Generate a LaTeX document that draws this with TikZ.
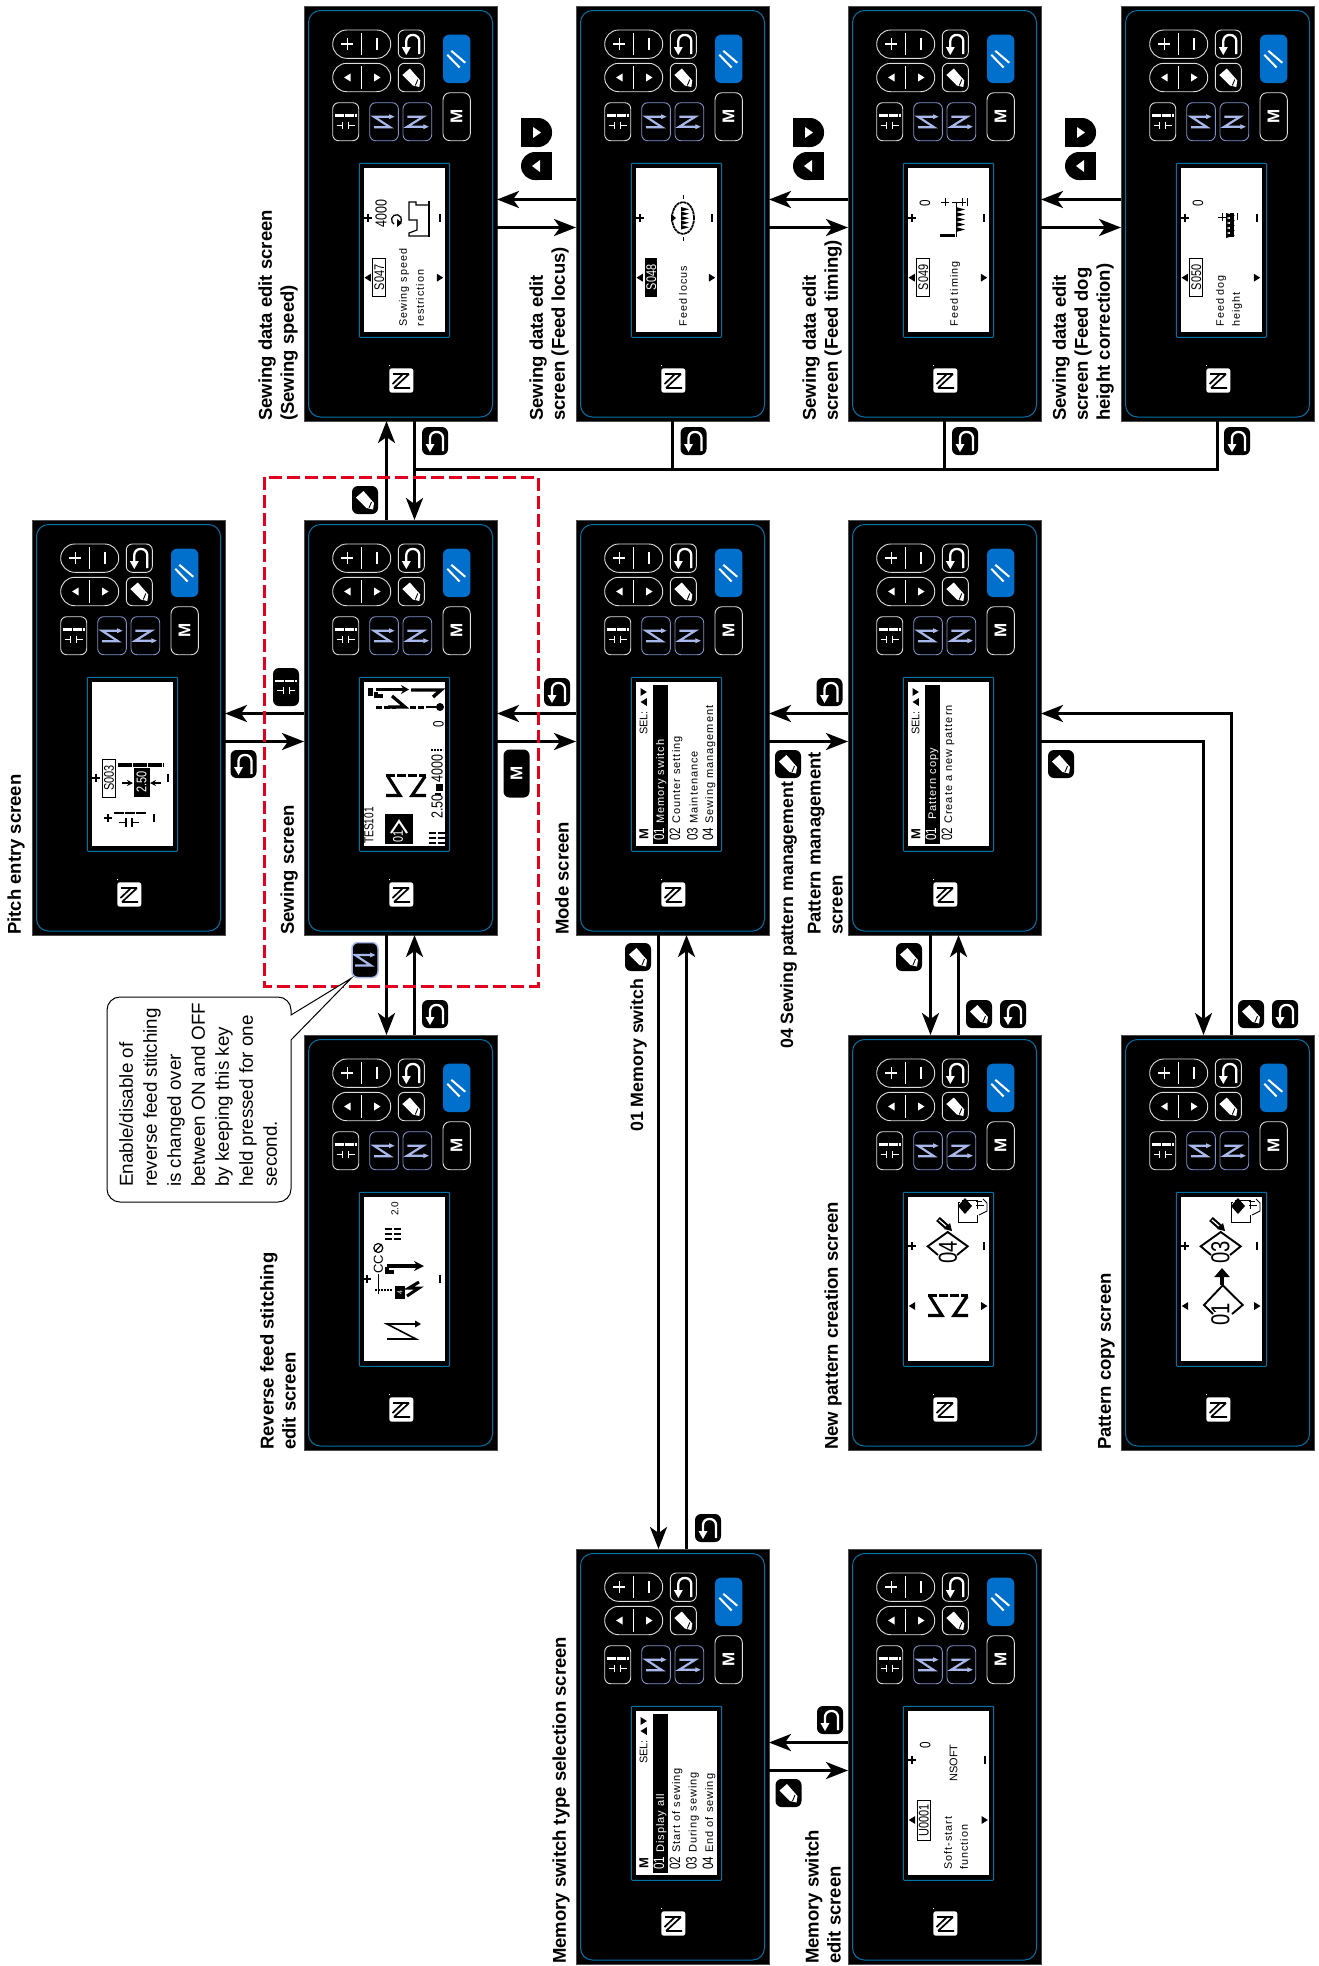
\documentclass[tikz,border=0pt]{standalone}
\usepackage{fontspec}
\setmainfont{Liberation Sans}
\newfontfamily\lcdfont[LetterSpace=9]{Liberation Sans}
\newfontfamily\lcdnumfont[FakeStretch=0.78]{Liberation Sans}
\usetikzlibrary{arrows.meta}
\definecolor{PanelBlue}{HTML}{0072A8}
\definecolor{KeyBlue}{HTML}{0070CC}
\definecolor{RevEdge}{HTML}{7F8FC8}
\definecolor{RevInk}{HTML}{A8B8EA}
\definecolor{KeyGrey}{HTML}{DDDDDD}
\definecolor{NoteRed}{HTML}{E60020}
\newcommand{\menurow}[2]{\lcdnumfont\fontsize{15}{15}\selectfont #1\lcdfont\fontsize{11}{11}\selectfont\ #2}
\tikzset{
  panelbox/.style={draw=black!70,fill=black,line width=0.8pt,anchor=north west,minimum width=193pt,minimum height=415pt,inner sep=0pt,outer sep=0pt},
  keyline/.style={draw=KeyGrey,line width=0.9pt},
  flowline/.style={line width=3pt,draw=black},
  flowarrow/.style={-{Stealth[length=22pt,width=17pt,inset=6pt]},line width=3pt,draw=black},
  screenlabel/.style={rotate=90,anchor=south west,align=left,inner sep=0pt,font=\bfseries\fontsize{18.5}{22}\selectfont},
  keylabel/.style={screenlabel,font=\bfseries\fontsize{17.8}{22}\selectfont},
  lcdtext/.style={rotate=90,anchor=west,inner sep=0pt,font=\lcdfont\fontsize{10.8}{10.8}\selectfont},
  lcdnum/.style={rotate=90,anchor=west,inner sep=0pt,font=\lcdnumfont\fontsize{15}{15}\selectfont},
  idbox/.style={draw=black,line width=0.9pt,rotate=90,minimum width=38pt,minimum height=13pt,inner sep=0pt,font=\lcdnumfont\fontsize{14}{14}\selectfont},
  idboxon/.style={idbox,fill=black,text=white},
  tokenkey/.style={fill=black,rounded corners=6pt,minimum width=26pt,minimum height=28pt,inner sep=0pt},
  notebox/.style={draw=black,fill=white,line width=1pt},
  plusmark/.pic={\draw[line width=1.8pt] (-4,0)--(4,0) (0,-4)--(0,4);},
  minusmark/.pic={\draw[line width=2pt] (0,-4)--(0,4);},
  triup/.pic={\fill (-4,0)--(4,-5)--(4,5)--cycle;},
  tridown/.pic={\fill (4,0)--(-4,-5)--(-4,5)--cycle;},
  backicon/.pic={\draw[white,line width=2.3pt,rounded corners=6pt] (8,10)--(8,-9)--(-5,-9)--(-5,4);
    \fill[white] (-9.5,3)--(-0.5,3)--(-5,11)--cycle;},
  penicon/.pic={\fill[white] (-9,-2.5)--(-1.5,-9)--(9,3)--(8,9.5)--(1.5,8)--cycle;
    \draw[black,line width=0.9pt] (6.5,2)--(4,8);},
  pitchicon/.pic={\draw[white,line width=2.6pt,dash pattern=on 9pt off 1pt] (-11,-6)--(11,-6);
    \draw[white,line width=0.7pt] (-3,0)--(-3,7) (3,0)--(3,7) (-9,3.5)--(-3,3.5) (9,3.5)--(3,3.5);},
  revicon/.pic={\draw[RevInk,line width=2.2pt] (-10,5.5)--(6,5.5)--(-10,-5)--(6,-5);
    \fill[RevInk] (5,-7.5)--(10.5,-5)--(5,-2.5)--cycle;},
  zzicon/.pic={\draw[RevInk,line width=2.2pt] (-10,-5)--(6,-5)--(-10,5)--(7,5);
    \fill[RevInk] (6,2.5)--(11.5,5)--(6,7.5)--cycle;},
  backtoken/.pic={\fill[rounded corners=6pt] (-13,-14) rectangle (13,14); \pic {backicon};},
  pentoken/.pic={\fill[rounded corners=6pt] (-13,-14) rectangle (13,14); \pic {penicon};},
  stitchmark/.pic={\draw[line width=3.2pt,dash pattern=on 9pt off 2pt] (-20,-10)--(20,-10);
    \draw[line width=3.2pt] (-20,10)--(-6,10)--(-18,-9) (20,10)--(6,10)--(19,-9);},
  spanmark/.pic={\draw[line width=1.2pt] (-3,-4)--(-3,5) (3,-4)--(3,5) (-10,0.5)--(-3,0.5) (10,0.5)--(3,0.5);},
  teethmark/.pic={\foreach \t in {0,5,10,15,20} \fill (0,\t)--(9,\t+2.5)--(0,\t+5)--cycle;},
  pitchmark/.pic={\draw[line width=1.8pt,dash pattern=on 7pt off 2pt] (-8,-5)--(8,-5) (-8,0)--(8,0) (-8,5)--(8,5);},
  copymark/.pic={\draw[line width=1pt] (110.7,167) rectangle (129,187);
    \fill[white] (112,164) rectangle (140,180);
    \draw[line width=1pt] (114,165)--(129,165)--(129,174);
    \fill (117,163)--(124,171)--(117,179)--(110,171)--cycle;
    \draw[line width=0.9pt] (128,166)--(134,166) (128,170)--(136,170);
    \draw[line width=0.9pt] (135,164)--(139,168)--(139,176)--(131,180);
    \draw[line width=5.5pt] (90,184)--(99,192);
    \draw[white,line width=1.2pt] (91,185)--(98,191);
    \fill (96,194)--(104,196)--(102,188)--cycle;},
  keypanel/.pic={
    \draw[PanelBlue,line width=1pt,rounded corners=12pt] (4.5,4.5) rectangle (188.5,411);
    \draw[keyline,rounded corners=14pt] (28.7,24) rectangle (86.7,52.3);
    \draw[keyline,rounded corners=14pt] (28.7,57.3) rectangle (86.7,85.7);
    \draw[white,line width=0.9pt] (57.7,27)--(57.7,49) (57.7,60)--(57.7,83);
    \draw[white,line width=1.6pt] (37.3,38)--(49.3,38) (43.3,32)--(43.3,44) (72.7,32)--(72.7,44);
    \pic[white,scale=0.8] at (43.3,71.5) {triup};
    \pic[white,scale=0.8] at (73.3,71.5) {tridown};
    \draw[keyline,rounded corners=6pt] (94.3,24) rectangle (120.3,52.3);
    \pic at (107.3,38) {backicon};
    \draw[keyline,rounded corners=6pt] (94.3,57.3) rectangle (120.3,85.7);
    \pic at (107.3,71.5) {penicon};
    \fill[KeyBlue,rounded corners=6pt] (139,28.7) rectangle (166.3,77);
    \draw[white,line width=2pt] (143.3,48.8)--(155.6,61.5) (147.3,44.8)--(161.3,56.8);
    \draw[keyline,rounded corners=7pt] (139,86.7) rectangle (166.3,134.7);
    \node[rotate=90,text=white,inner sep=0pt,font=\bfseries\fontsize{17}{17}\selectfont] (-m) at (152.6,110.7) {M};
    \draw[keyline,rounded corners=6pt] (28.7,96.7) rectangle (54.7,134.7);
    \pic at (41.7,115.7) {pitchicon};
    \draw[RevEdge,line width=0.9pt,rounded corners=6pt] (65.7,96.7) rectangle (94.3,134.7);
    \pic at (80,115.7) {revicon};
    \draw[RevEdge,line width=0.9pt,rounded corners=6pt] (99,96.7) rectangle (127.7,134.7);
    \pic at (113.3,115.7) {zzicon};
    \fill[white,rounded corners=2.5pt] (85.3,362.3) rectangle (109.3,386.7);
    \draw[black,line width=1.7pt] (89,368)--(105,368) (105,368)--(90,382) (99,368)--(88.5,378) (90,382)--(106,382);
    \fill[white] (85.3,359) rectangle (86.3,360);
    \draw[PanelBlue,fill=black,line width=1pt,rounded corners=1pt] (55.3,157.3) rectangle (145.7,331.3);
    \fill[white] (60,162.3) rectangle (141,326.3);
  }
}
\begin{document}
\begin{tikzpicture}[x=1pt,y=-1pt]
\useasboundingbox (0,0) rectangle (1319,1966);
% panels
\foreach \nm/\px/\py in {s47/304/6,s48/576/6,s49/848/6,s50/1121/6,
  pitch/32/520,sew/304/520,mode/576/520,patt/848/520,
  rev/304/1035,newp/848/1035,copyp/1121/1035,
  mtype/576/1549,medit/848/1549}{
  \node[panelbox] (\nm) at (\px,\py) {};
  \pic (\nm) at (\nm.north west) {keypanel};
}
% S047
\begin{scope}[shift={(s47.north west)}]
  \pic at (63.7,212.3) {plusmark};
  \pic at (136,212.3) {minusmark};
  \pic[scale=0.8] at (63.7,271.7) {triup};
  \pic[scale=0.8] at (136,271.7) {tridown};
  \node[idbox] (s47id) at (75.3,271.5) {S047};
  \node[lcdnum,font=\lcdnumfont\fontsize{16}{16}\selectfont] (s47val) at (77,222) {4000};
  \node[lcdtext] (s47a) at (100,320.7) {Sewing speed};
  \node[lcdtext] (s47b) at (116,320.7) {restriction};
  \draw[line width=1.3pt] (95,218) arc[start angle=-60,end angle=240,radius=5pt];
  \fill (93,213)--(98,217)--(93,221)--cycle;
  \draw[line width=2pt] (124.5,195)--(124.5,231);
  \draw[line width=1.2pt] (105,199)--(105,196)--(112,196)--(112,199)--(124,199) (105,199)--(105,214)--(113,214)--(113,224)--(105,227)--(105,230)--(124,230);
\end{scope}
% S048
\begin{scope}[shift={(s48.north west)}]
  \pic at (63.7,212.3) {plusmark};
  \pic at (136,212.3) {minusmark};
  \pic[scale=0.8] at (63.7,271.7) {triup};
  \pic[scale=0.8] at (136,271.7) {tridown};
  \node[idboxon,minimum height=11pt] (s48id) at (75.3,271.5) {S048};
  \node[lcdtext] (s48a) at (107,320.7) {Feed locus};
  \draw[line width=1.7pt,dash pattern=on 3pt off 0.6pt] (107,212) ellipse [x radius=11pt,y radius=16pt];
  \draw[line width=1pt] (107,189)--(107,193) (107,231)--(107,235);
  \pic[scale=0.9] at (105,201) {teethmark};
  \fill (95,208)--(100,212)--(95,216)--cycle;
\end{scope}
% S049
\begin{scope}[shift={(s49.north west)}]
  \pic at (63.7,212.3) {plusmark};
  \pic at (136,212.3) {minusmark};
  \pic[scale=0.8] at (63.7,271.7) {triup};
  \pic[scale=0.8] at (136,271.7) {tridown};
  \node[idbox] (s49id) at (75.3,271.5) {S049};
  \node[lcdnum] (s49val) at (77,201) {0};
  \node[lcdtext] (s49a) at (107,320.7) {Feed timing};
  \draw[line width=0.9pt] (108,196)--(108,231) (93,196)--(101,196) (97,192)--(97,200) (104,196)--(118,196) (114,192)--(114,200) (119,192)--(119,200);
  \pic at (108,201) {teethmark};
  \draw[line width=3pt] (92,229)--(107,229);
\end{scope}
% S050
\begin{scope}[shift={(s50.north west)}]
  \pic at (63.7,212.3) {plusmark};
  \pic at (136,212.3) {minusmark};
  \pic[scale=0.8] at (63.7,271.7) {triup};
  \pic[scale=0.8] at (136,271.7) {tridown};
  \node[idbox] (s50id) at (75.3,271.5) {S050};
  \node[lcdnum] (s50val) at (77,201) {0};
  \node[lcdtext] (s50a) at (100,320.7) {Feed dog};
  \node[lcdtext] (s50b) at (116,320.7) {height};
  \draw[line width=0.9pt] (97,211)--(105,211) (101,207)--(101,215) (116,207)--(116,214);
  \fill (109,207) rectangle (113,231);
  \pic at (105,207) {teethmark};
\end{scope}
% pitch entry
\begin{scope}[shift={(pitch.north west)}]
  \pic at (63.6,257.7) {plusmark};
  \pic at (136,257.7) {minusmark};
  \pic at (76,298) {plusmark};
  \pic at (122,298) {minusmark};
  \node[idbox] (p03id) at (77,258) {S003};
  \draw[line width=4.5pt,dash pattern=on 14pt off 1pt] (86,245)--(132,245);
  \node[idboxon,minimum width=28pt,minimum height=15pt] (p03val) at (109.5,262) {2.50};
  \draw[-{Stealth[length=6pt,width=6pt]},line width=1.2pt] (90,263)--(101,263);
  \draw[-{Stealth[length=6pt,width=6pt]},line width=1.2pt] (129,263)--(118,263);
  \draw[line width=2.4pt,dash pattern=on 10pt off 1pt] (82,293)--(115,293);
  \pic at (97,302) {spanmark};
\end{scope}
% sewing
\begin{scope}[shift={(sew.north west)}]
  \node[lcdnum,font=\lcdnumfont\fontsize{13}{13}\selectfont] (sewname) at (65,324) {TES101};
  \fill (81,294) rectangle (108.6,324);
  \draw[white,line width=2pt] (87,313)--(95,301)--(103,313);
  \node[lcdnum,text=white,font=\lcdnumfont\fontsize{14}{14}\selectfont] (sewpat) at (94,323) {01};
  \pic at (102,265.5) {stitchmark};
  \node[lcdnum,font=\lcdnumfont\fontsize{16}{16}\selectfont] (sewpitch) at (133,299) {2.50};
  \node[lcdnum,font=\lcdnumfont\fontsize{16}{16}\selectfont] (sewspeed) at (133,263) {4000};
  \node[lcdnum] (sewcount) at (134.5,208) {0};
  \draw[line width=1.4pt,dash pattern=on 2pt off 1pt] (127,230)--(139,230);
  \fill (132,264) rectangle (139,271);
  \draw[line width=1.4pt] (131,274)--(137,274);
  \pic at (132.5,317.7) {pitchmark};
  \fill (64,168) rectangle (69,176);
  \draw[-{Stealth[length=8pt,width=9pt]},line width=3.4pt] (72,169.5)--(105,169.5);
  \draw[line width=3.2pt] (72,172)--(72,176)--(79,176);
  \draw[line width=3.4pt] (107,170)--(137,170)--(129,177);
  \draw[line width=3pt,dash pattern=on 6pt off 2pt] (72,187)--(92,187);
  \draw[line width=3.2pt] (88,176)--(101,187)--(84,187);
  \draw[line width=3pt,dash pattern=on 6pt off 2pt] (106,187)--(122,187);
  \draw[line width=2.4pt] (122,187)--(136,187);
  \fill (136,187) circle [radius=4pt];
\end{scope}
% mode
\begin{scope}[shift={(mode.north west)}]
  \node[rotate=90,inner sep=0pt,font=\bfseries\fontsize{13}{13}\selectfont] (modem) at (68,314) {M};
  \node[lcdtext,anchor=west,font=\fontsize{11}{11}\selectfont] (modesel) at (67.7,215) {SEL:};
  \pic[scale=0.8] at (67.7,182) {triup};
  \pic[scale=0.8] at (67.7,172) {tridown};
  \fill (76.7,165) rectangle (91.7,324);
  \node[lcdtext,text=white] (mode1) at (84,321) {\menurow{01}{Memory switch}};
  \node[lcdtext] (mode2) at (100,321) {\menurow{02}{Counter setting}};
  \node[lcdtext] (mode3) at (116.5,321) {\menurow{03}{Maintenance}};
  \node[lcdtext] (mode4) at (133,321) {\menurow{04}{Sewing management}};
\end{scope}
% pattern management
\begin{scope}[shift={(patt.north west)}]
  \node[rotate=90,inner sep=0pt,font=\bfseries\fontsize{13}{13}\selectfont] (pattm) at (68,314) {M};
  \node[lcdtext,anchor=west,font=\fontsize{11}{11}\selectfont] (pattsel) at (67.7,215) {SEL:};
  \pic[scale=0.8] at (67.7,182) {triup};
  \pic[scale=0.8] at (67.7,172) {tridown};
  \fill (76.7,165) rectangle (91.7,324);
  \node[lcdtext,text=white] (patt1) at (84,321) {\menurow{01}{\ Pattern copy}};
  \node[lcdtext] (patt2) at (100,321) {\menurow{02}{Create a new pattern}};
\end{scope}
% memory switch type
\begin{scope}[shift={(mtype.north west)}]
  \node[rotate=90,inner sep=0pt,font=\bfseries\fontsize{13}{13}\selectfont] (mtypem) at (68,314) {M};
  \node[lcdtext,anchor=west,font=\fontsize{11}{11}\selectfont] (mtypesel) at (67.7,215) {SEL:};
  \pic[scale=0.8] at (67.7,182) {triup};
  \pic[scale=0.8] at (67.7,172) {tridown};
  \fill (76.7,165) rectangle (91.7,324);
  \node[lcdtext,text=white] (mtype1) at (84,321) {\menurow{01}{Display all}};
  \node[lcdtext] (mtype2) at (100,321) {\menurow{02}{Start of sewing}};
  \node[lcdtext] (mtype3) at (116.5,321) {\menurow{03}{During sewing}};
  \node[lcdtext] (mtype4) at (133,321) {\menurow{04}{End of sewing}};
\end{scope}
% memory switch edit
\begin{scope}[shift={(medit.north west)}]
  \pic at (64,211.3) {plusmark};
  \pic at (136.7,211.3) {minusmark};
  \pic[scale=0.8] at (64,271) {triup};
  \pic[scale=0.8] at (136.7,271) {tridown};
  \node[idbox,minimum width=40pt] (meditid) at (75.8,271) {U0001};
  \node[lcdnum] (meditval) at (77.3,200) {0};
  \node[lcdnum,font=\fontsize{11}{11}\selectfont] (meditname) at (105.7,233) {NSOFT};
  \node[lcdtext] (medita) at (100,320.7) {Soft-start};
  \node[lcdtext] (meditb) at (116,320.7) {function};
\end{scope}
% reverse feed edit
\begin{scope}[shift={(rev.north west)}]
  \pic at (63.3,243.7) {plusmark};
  \pic at (136,243.7) {minusmark};
  \node[lcdnum,font=\fontsize{10}{10}\selectfont] (revpitch) at (91,181) {2.0};
  \pic at (88.7,198.7) {pitchmark};
  \node[rotate=90,anchor=west,inner sep=0pt,font=\fontsize{13}{13}\selectfont] (revcc) at (74.3,239) {CC};
  \draw[line width=1.2pt] (74.3,213) circle [radius=4.5pt] (71,216.5)--(77.5,209.5);
  \draw[line width=0.9pt] (74.3,239)--(74.3,259);
  \draw[-{Stealth[length=10pt,width=10pt]},line width=3.6pt] (83,231)--(120,231);
  \draw[line width=3.4pt] (83,232)--(83,237)--(90,237);
  \draw[line width=1.2pt,dash pattern=on 2pt off 1pt] (71,255)--(88,255);
  \fill (91,251) rectangle (101,264);
  \node[lcdnum,text=white,font=\fontsize{7}{7}\selectfont] (revn) at (96,260) {4};
  \draw[line width=3pt] (115,247)--(105,253)--(115,253)--(103,261);
  \draw[line width=1.6pt] (83,304)--(112,304)--(83,289)--(112,289);
  \fill (111,285.5)--(117,289)--(111,292.5)--cycle;
\end{scope}
% new pattern
\begin{scope}[shift={(newp.north west)}]
  \pic at (64,211.3) {plusmark};
  \pic at (136.3,211.3) {minusmark};
  \pic[scale=0.8] at (64,271) {triup};
  \pic[scale=0.8] at (136.3,271) {tridown};
  \pic at (0,0) {copymark};
  \draw[line width=1.9pt] (90,220)--(79.7,211.3)--(99.7,197)--(119.7,211.3)--(109,220);
  \node[lcdnum,font=\lcdnumfont\fontsize{26}{26}\selectfont] (newnum) at (100,229) {04};
  \pic at (100,270.5) {stitchmark};
\end{scope}
% pattern copy
\begin{scope}[shift={(copyp.north west)}]
  \pic at (64,211.3) {plusmark};
  \pic at (136.3,211.3) {minusmark};
  \pic[scale=0.8] at (64,271) {triup};
  \pic[scale=0.8] at (136.3,271) {tridown};
  \pic at (0,0) {copymark};
  \draw[line width=1.9pt] (90,220)--(79.7,211.3)--(99.7,197)--(119.7,211.3)--(109,220);
  \node[lcdnum,font=\lcdnumfont\fontsize{26}{26}\selectfont] (copyto) at (99.5,229) {03};
  \draw[-{Stealth[length=9pt,width=15pt,inset=0pt]},line width=4pt] (101,250)--(101,233);
  \draw[line width=1.9pt] (92,279)--(83,270)--(101.7,250.3)--(121.7,270)--(111,279);
  \node[lcdnum,font=\lcdnumfont\fontsize{26}{26}\selectfont] (copyfrom) at (99.5,291) {01};
\end{scope}
% screen names
\node[screenlabel] (lbpitch) at ([xshift=-7pt]pitch.south west) {Pitch entry screen};
\node[screenlabel] (lbsew) at ([xshift=-6pt]sew.south west) {Sewing screen};
\node[screenlabel] (lbmode) at ([xshift=-7pt]mode.south west) {Mode screen};
\node[screenlabel] (lbpatt) at ([xshift=-5pt]patt.south west) {Pattern management\\screen};
\node[screenlabel] (lbs47) at ([xshift=-6pt]s47.south west) {Sewing data edit screen\\(Sewing speed)};
\node[screenlabel] (lbs48) at ([xshift=-7pt]s48.south west) {Sewing data edit\\screen (Feed locus)};
\node[screenlabel] (lbs49) at ([xshift=-6pt]s49.south west) {Sewing data edit\\screen (Feed timing)};
\node[screenlabel] (lbs50) at ([xshift=-7pt]s50.south west) {Sewing data edit\\screen (Feed dog\\height correction)};
\node[screenlabel] (lbrev) at ([xshift=-8pt]rev.south west) {Reverse feed stitching\\edit screen};
\node[screenlabel] (lbnew) at ([xshift=-6pt]newp.south west) {New pattern creation screen};
\node[screenlabel] (lbcopy) at ([xshift=-6pt]copyp.south west) {Pattern copy screen};
\node[screenlabel] (lbtype) at ([xshift=-6pt]mtype.south west) {Memory switch type selection screen};
\node[screenlabel] (lbedit) at ([xshift=-7pt]medit.south west) {Memory switch\\edit screen};
\node[keylabel] (lbmem) at (647,1132) {01 Memory switch};
\node[keylabel] (lb04) at (797,1049) {04 Sewing pattern management};
% connectors
\coordinate (busleft) at ([xshift=14pt]s47.south |- 0,469.5);
\draw[flowarrow] ([xshift=-14pt]sew.north) -- ([xshift=-14pt]s47.south);
\draw[flowarrow] ([xshift=14pt]s47.south) -- ([xshift=14pt]sew.north);
\draw[flowline] (s50.south) |- (busleft);
\draw[flowline] (s49.south) -- (s49.south |- busleft);
\draw[flowline] (s48.south) -- (s48.south |- busleft);
\foreach \la/\lb in {s47/s48,s48/s49,s49/s50,pitch/sew,sew/mode,mode/patt,mtype/medit}{
  \draw[flowarrow] ([yshift=-14pt]\la.east) -- ([yshift=-14pt]\lb.west);
  \draw[flowarrow] ([yshift=14pt]\lb.west) -- ([yshift=14pt]\la.east);
}
\foreach \la/\lb in {sew/rev,mode/mtype,patt/newp}{
  \draw[flowarrow] ([xshift=-14pt]\la.south) -- ([xshift=-14pt]\lb.north);
  \draw[flowarrow] ([xshift=14pt]\lb.north) -- ([xshift=14pt]\la.south);
}
\draw[flowarrow] ([yshift=-14pt]patt.east) -| ([xshift=-14pt]copyp.north);
\draw[flowarrow] ([xshift=14pt]copyp.north) |- ([yshift=14pt]patt.east);
% key tokens
\foreach \kx/\ky in {435/441,693.5/441,965/441,1237/441,243.5/764,557/692,829.5/692,
  435/1014,708/1528,830/1720,1013/1014,1285/1014}
  \pic at (\kx,\ky) {backtoken};
\foreach \kx/\ky in {365/500,788/764,1061/764,638/957,909/957,979/1014,1251/1014,788.5/1793}
  \pic at (\kx,\ky) {pentoken};
\foreach \kx in {521,793,1065}{
  \fill[rounded corners=14pt] (\kx,118) -- (\kx+31,118) -- (\kx+31,147) -- (\kx,147) -- cycle;
  \fill (\kx,118) rectangle (\kx+15,147);
  \fill[white] (\kx+12,127)--(\kx+20,132.5)--(\kx+12,138)--cycle;
  \fill[rounded corners=14pt] (\kx,152) -- (\kx+31,152) -- (\kx+31,180) -- (\kx,180) -- cycle;
  \fill (\kx+16,152) rectangle (\kx+31,180);
  \fill[white] (\kx+19,160)--(\kx+11,166)--(\kx+19,172)--cycle;
}
\fill[rounded corners=6pt] (273,668) rectangle (299,706);
\pic at (286,687) {pitchicon};
\node[fill=black,rounded corners=6pt,rotate=90,inner sep=0pt,text=white,font=\bfseries\fontsize{17}{17}\selectfont,minimum width=48pt,minimum height=26pt] (mtoken) at (516.5,773.5) {M};
\node[tokenkey,draw=RevInk,line width=1.5pt,minimum height=35pt] (revtok) at (365,960) {};
\pic at (365,960) {revicon};
% active screen frame
\draw[NoteRed,line width=3pt,dash pattern=on 13pt off 5pt] (264,477) rectangle (538,986);
% callout
\draw[notebox] (291,1040) [rounded corners=13pt] -- (291,1202) -- (107,1202) -- (107,997) -- (291,997) [sharp corners] -- (291,1015) -- (revtok.south west) -- cycle;
\node[rotate=90,anchor=north west,align=left,inner sep=0pt,font=\fontsize{18.8}{24}\selectfont] (note) at (119,1187) {Enable/disable of\\reverse feed stitching\\is changed over\\between ON and OFF\\by keeping this key\\held pressed for one\\second.};
\end{tikzpicture}
\end{document}
